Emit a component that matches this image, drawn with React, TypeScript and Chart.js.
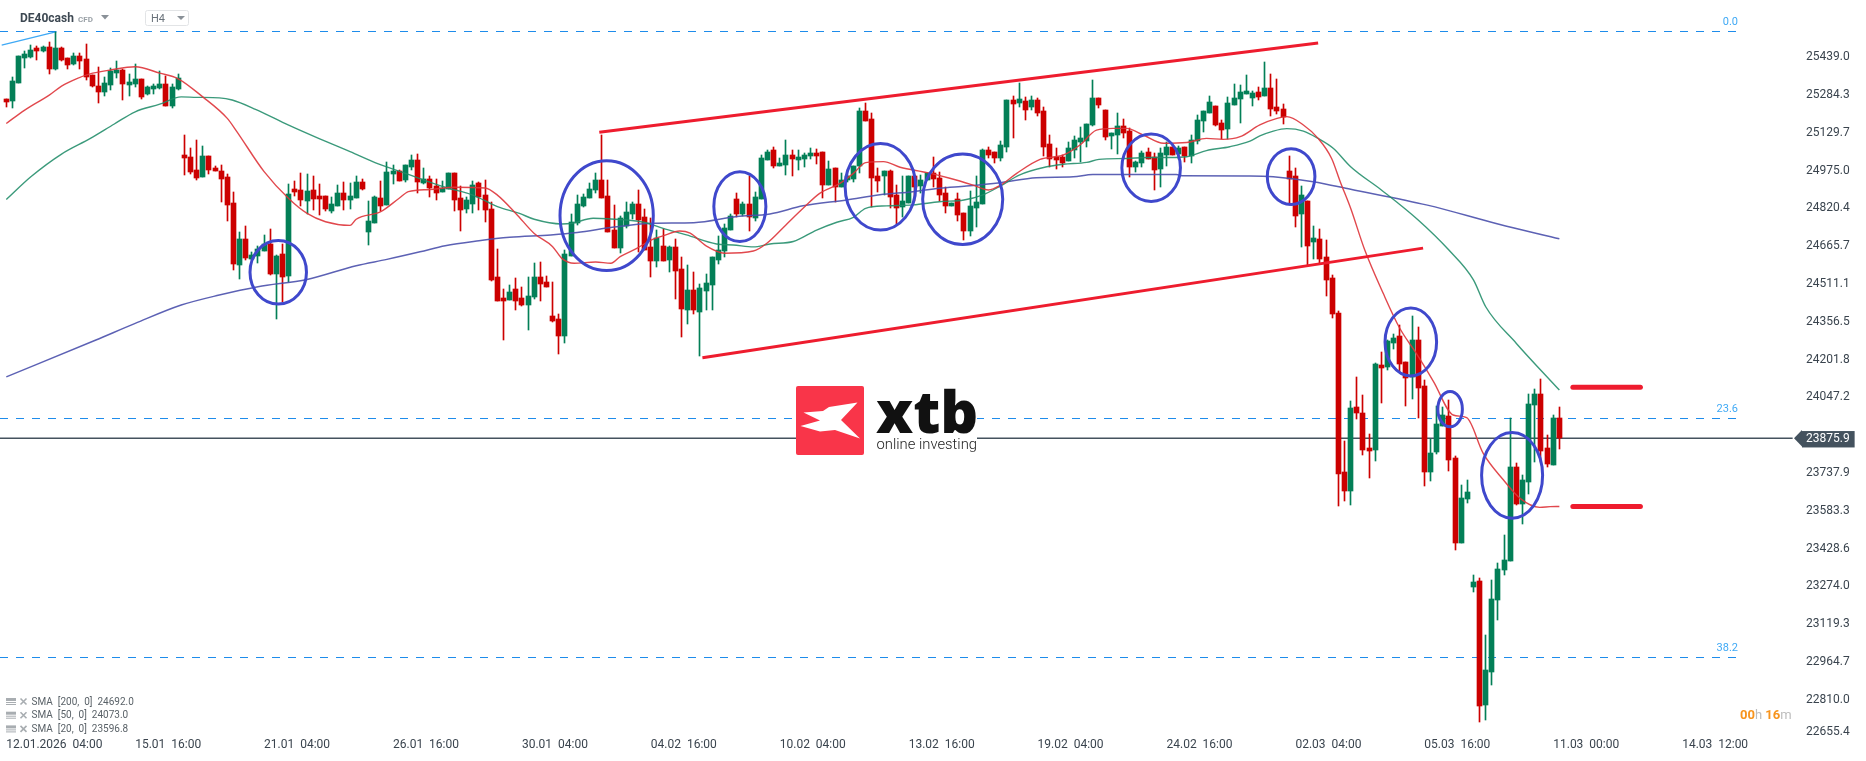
import React, { useEffect, useRef } from "react";
import { Chart, registerables } from "chart.js";

Chart.register(...registerables);

const opens = [
  25264,25256,25329,25432,25438,25473,25460,25477,25387,25473,
  25432,25407,25440,25428,25362,25317,25292,25321,25370,25383,
  25321,25325,25346,25284,25305,25309,25325,25235,25305,25035,
  25027,24973,24945,25031,24982,24969,24945,24838,24585,24691,
  24609,24621,24642,24671,24548,24630,24540,24896,24891,24846,
  24892,24867,24867,24806,24826,24879,24851,24859,24924,24720,
  24757,24859,24830,24957,24970,24933,24986,25015,24920,24937,
  24908,24884,24896,24961,24859,24814,24834,24920,24871,24814,
  24536,24450,24442,24487,24450,24421,24454,24536,24515,24376,
  24364,24294,24622,24757,24826,24859,24892,24933,24867,24728,
  24654,24744,24794,24835,24782,24659,24602,24663,24606,24659,
  24569,24401,24483,24393,24479,24503,24606,24642,24728,24855,
  24794,24835,24778,24855,25015,25056,24990,24994,25035,25015,
  25019,25031,25043,25047,24913,24982,24904,24933,24937,24990,
  25215,25183,24949,24949,24970,24872,24822,24839,24949,24908,
  24933,24961,24941,24880,24826,24855,24798,24724,24818,24835,
  25056,25047,25023,25068,25260,25248,25256,25232,25260,25215,
  25080,25027,25027,25011,25056,25088,25092,25158,25268,25219,
  25113,25117,25154,25133,24986,25002,25047,25027,24978,25035,
  25068,25039,25068,25031,25092,25174,25207,25236,25166,25142,
  25240,25264,25285,25268,25293,25277,25309,25232,25223,24970,
  24949,24794,24847,24679,24691,24618,24532,24389,23738,23660,
  24004,23979,23836,23828,24176,24167,24266,24294,24188,24127,
  24278,24090,23738,23820,23926,23967,23795,23447,23627,23267,
  23292,22784,22919,23214,23337,23374,23758,23607,23697,24012,
  24057,23836,23767,23959,
];
const highs = [
  25264,25353,25440,25460,25485,25481,25481,25497,25539,25477,
  25432,25452,25452,25489,25362,25395,25354,25391,25419,25387,
  25366,25407,25346,25317,25325,25378,25358,25325,25366,25117,
  25063,25096,25072,25031,24990,24994,24957,24883,24720,24744,
  24638,24662,24707,24732,24625,24671,24916,24928,24961,24957,
  24949,24916,24867,24863,24912,24924,24920,24949,24937,24847,
  24867,24929,25006,24994,24974,24994,25035,25039,24982,24949,
  24937,24929,24961,24961,24908,24863,24929,24924,24933,24843,
  24650,24487,24503,24532,24495,24536,24593,24597,24540,24515,
  24384,24646,24794,24871,24875,24920,24961,25117,24933,24830,
  24785,24843,24843,24892,24814,24778,24728,24732,24663,24691,
  24618,24585,24556,24507,24548,24618,24704,24753,24794,24880,
  24843,24949,24884,25035,25056,25068,25023,25097,25056,25056,
  25043,25064,25060,25047,25011,24982,24962,24953,24990,25228,
  25248,25207,24982,24970,24974,24913,24949,24949,24949,24953,
  24962,25027,24966,24904,24839,24880,24798,24888,24949,25060,
  25068,25047,25092,25260,25277,25330,25272,25277,25268,25232,
  25117,25064,25035,25088,25113,25150,25162,25342,25268,25219,
  25125,25207,25182,25146,25011,25051,25064,25043,25064,25088,
  25068,25072,25068,25117,25199,25215,25277,25236,25178,25272,
  25326,25322,25363,25297,25313,25416,25367,25346,25244,25031,
  24982,24908,24847,24745,24732,24687,24544,24397,23865,24028,
  24127,24053,23893,24184,24229,24278,24303,24339,24188,24376,
  24331,24114,23873,24008,24004,24033,23803,23685,23705,23316,
  23304,23071,23296,23365,23480,23959,23775,23726,24057,24078,
  24118,23889,23971,24004,
];
const lows = [
  25231,25227,25329,25391,25434,25423,25456,25366,25383,25419,
  25387,25403,25387,25342,25313,25248,25276,25301,25350,25260,
  25276,25313,25264,25280,25284,25305,25235,25227,25301,24953,
  24957,24932,24945,24957,24969,24842,24765,24564,24527,24605,
  24605,24593,24642,24544,24364,24433,24515,24867,24826,24793,
  24810,24789,24806,24798,24826,24810,24814,24859,24892,24667,
  24757,24806,24830,24916,24929,24924,24974,24879,24916,24863,
  24851,24884,24896,24806,24724,24798,24798,24810,24761,24519,
  24437,24278,24442,24401,24417,24319,24446,24437,24495,24352,
  24221,24266,24622,24749,24822,24859,24879,24859,24720,24654,
  24634,24736,24773,24640,24647,24536,24577,24602,24556,24446,
  24290,24344,24385,24213,24401,24401,24589,24618,24728,24782,
  24786,24724,24765,24855,25015,24982,24990,24953,24949,24974,
  24986,25019,24998,24859,24913,24843,24904,24926,24925,24962,
  25174,24822,24884,24872,24818,24753,24782,24839,24847,24880,
  24933,24904,24847,24798,24826,24765,24687,24704,24741,24835,
  25023,25002,25011,25047,25105,25232,25178,25219,25195,25031,
  24986,24978,24986,25011,25023,25006,25068,25154,25227,25097,
  25060,25039,25105,24945,24966,24986,25019,24892,24904,24990,
  25035,25019,25006,25002,25080,25129,25207,25154,25101,25101,
  25240,25166,25285,25236,25260,25277,25195,25203,25162,24831,
  24741,24659,24585,24610,24592,24458,24368,23599,23619,23603,
  23955,23807,23713,23783,24020,24155,24241,24147,24008,24037,
  23959,23681,23701,23811,23926,23742,23419,23447,23611,23247,
  22715,22723,22866,23132,23316,23374,23603,23525,23648,23779,
  23779,23758,23767,23832,
];
const closes = [
  25252,25338,25440,25448,25464,25460,25477,25387,25473,25423,
  25403,25440,25419,25354,25317,25292,25329,25378,25383,25325,
  25333,25346,25272,25313,25317,25325,25235,25313,25350,25022,
  24965,24941,25031,24973,24969,24936,24830,24589,24691,24613,
  24625,24650,24671,24548,24621,24535,24875,24883,24851,24887,
  24855,24855,24814,24834,24879,24851,24867,24924,24896,24765,
  24863,24826,24965,24970,24929,24994,25015,24924,24937,24900,
  24879,24900,24961,24851,24810,24851,24912,24863,24810,24523,
  24437,24437,24474,24437,24421,24458,24536,24507,24495,24356,
  24294,24630,24761,24834,24863,24896,24933,24859,24720,24654,
  24776,24802,24835,24769,24647,24602,24696,24602,24659,24561,
  24405,24483,24401,24491,24511,24618,24647,24736,24786,24794,
  24835,24782,24863,25023,25047,24990,25002,25035,25019,25027,
  25035,25043,25031,24913,24978,24904,24933,24949,24990,25215,
  25174,24941,24929,24970,24863,24818,24847,24949,24904,24933,
  24962,24937,24871,24826,24839,24790,24724,24826,24843,25056,
  25035,25023,25076,25260,25244,25264,25219,25260,25207,25068,
  25019,25015,25002,25064,25097,25105,25162,25268,25240,25109,
  25125,25154,25125,24986,25006,25043,25019,24974,25043,25068,
  25035,25064,25031,25097,25178,25215,25252,25158,25137,25248,
  25268,25293,25297,25289,25272,25309,25223,25215,25191,24937,
  24786,24872,24663,24696,24610,24524,24384,23730,23660,24000,
  23979,23828,23824,24180,24163,24274,24286,24180,24122,24278,
  24082,23738,23816,23934,23971,23787,23447,23631,23656,23288,
  22780,22928,23218,23341,23378,23758,23607,23705,24016,24057,
  23824,23771,23959,23875.9,
];

const sma20At = [
  0,3,7,9,11.5,13.5,17,21,25,28,32,36,37.5,42,46,49,52,56,57,61,64,65.5,69,73,78,80,83,86,89,90.5,92.5,96,98.5,
  100,102.7,104.9,107,109.7,111.4,114,117,121.7,123.9,127,129.8,132.5,135.8,138,140,142.9,145.6,150,153.7,157.5,
  160,162,164.6,168.4,172.2,174.9,177.6,180.3,182.5,185.2,188.5,192.3,195.5,198.2,201,204.2,207,208.6,211.3,213.7,
  215.9,217.3,219,221.3,224.3,227,229.7,232.5,235.7,237.9,240.6,243.9,246.6,249.8,251.5,253,
];
const sma20Values = [
  25164,25219,25280,25317,25348,25366,25383,25396,25370,25347,25273,25185,25133,24967,24857,24796,24762,24747,24772,24803,24858,24885,24894,24903,24900,24871,24796,24714,24660,24612,24592,24597,24592,
  24619,24653,24685,24704,24724,24715,24663,24633,24642,24674,24749,24817,24878,24919,24960,25004,25008,24985,24963,24940,24912,
  24892,24912,24960,25017,25035,25076,25137,25144,25144,25117,25083,25086,25103,25099,25110,25158,25185,25192,25158,25103,
  25021,24926,24817,24646,24469,24326,24223,24108,23971,23960,23814,23705,23630,23593,23596,23596.8,
];
const sma50At = [
  0,4,9,13.7,17.6,21,25,28.5,31,34.7,36.8,40.6,46,50.5,56,60.6,65,71.5,76,80,83.6,86,90.5,92,95.6,98,
  103.8,107,110.8,115.7,118.4,121.7,124.4,128.2,132,135.3,138,140,143.4,147.7,152,156,159,162,165,169.5,172.2,
  176,178,182.5,185.8,189.6,192.3,195.5,199.3,202.6,204.2,206.4,208.6,211.3,213.7,216.2,219,224,230,235,239,241,246,253,
];
const sma50Values = [
  24853,24946,25039,25103,25162,25212,25243,25273,25271,25269,25260,25222,25157,25107,25049,24999,24960,24903,24871,24824,24796,24772,24753,24755,24776,24774,
  24760,24735,24708,24671,24667,24659,24671,24681,24728,24760,24780,24817,24827,24831,24844,24851,24871,24909,24953,24987,24997,
  25005,25017,25021,25025,25025,25028,25053,25069,25092,25113,25133,25143,25133,25103,25062,24987,24892,24769,24646,24524,24414,24264,24073,
];
const sma200At = [
  0,14.6,21,28.5,34.7,41,49,57,62,67.4,71.5,77,82,88.7,93,99,105.4,112,119,124.4,129.8,136.9,142.3,147.7,152,
  156.4,161.9,167.8,173.8,177,190.6,191.7,202.6,206.4,212.9,219,231.5,243,253,
];
const sma200Values = [
  24127,24278,24346,24421,24462,24496,24526,24582,24608,24639,24664,24684,24698,24708,24718,24740,24756,24758,24783,24794,24827,24851,24872,24885,24899,
  24908,24922,24942,24946,24955,24955,24950,24949,24946,24926,24895,24830,24753,24692,
];

const priceTicks = [
  25439.0,25284.3,25129.7,24975.0,24820.4,24665.7,24511.1,24356.5,24201.8,24047.2,23875.9,
  23737.9,23583.3,23428.6,23274.0,23119.3,22964.7,22810.0,22655.4,
];
const lastPrice = 23875.9;
const timeTickAt = [0,21,42,63,84,105,126,147,168,189,210,231,252,273];
const timeTickLabels = [
  "12.01.2026  04:00","15.01  16:00","21.01  04:00","26.01  16:00","30.01  04:00","04.02  16:00",
  "10.02  04:00","13.02  16:00","19.02  04:00","24.02  16:00","02.03  04:00","05.03  16:00","11.03  00:00","14.03  12:00",
];

const fibLevels = [25540.5, 23956.7, 22978.6];
const fibLabels = ["0.0", "23.6", "38.2"];
const fibEndAt = 282.1;
const channelUpperAt = [96.6, 213.7];
const channelUpperPrices = [25128, 25493];
const channelLowerAt = [113.4, 230.8];
const channelLowerPrices = [24205.5, 24654];
const stopLevels = [24084.4, 23597];
const stopAt = [255.2, 266.2];
const startTrendAt = [-0.75, 8.2];
const startTrendPrices = [25485, 25540];
const circleAt = [44.3, 97.8, 119.5, 142.4, 155.8, 186.5, 209.3, 228.8, 235.2, 245.3];
const circlePrices = [24555, 24787, 24824, 24905, 24854, 24983, 24947, 24270, 23995, 23724];
const circleSpanAt = [4.6, 7.6, 4.24, 5.75, 6.52, 4.77, 3.88, 4.2, 2.0, 4.97];
const circleSpanPrice = [130, 225, 143, 177, 185, 138, 114, 139, 72, 175];
const legendRows = ["SMA  [200,  0]  24692.0", "SMA  [50,  0]  24073.0", "SMA  [20,  0]  23596.8"];

const RED = "#CC0000";
const GREEN = "#037F57";
const indices = opens.map((_, i) => i);
const candleColors = indices.map((i) => (closes[i] >= opens[i] ? GREEN : RED));
const zip = (xs: number[], ys: number[]) => xs.map((x, i) => ({ x, y: ys[i] }));
const xMin = -1.026;
const xMax = 292.2;
const priceEndAt = 291;

const crispBars = {
  id: "crispBars",
  afterDatasetsUpdate(chart: any) {
    chart.data.datasets.forEach((d: any, i: number) => {
      if (d.type !== "bar") return;
      chart.getDatasetMeta(i).data.forEach((el: any) => {
        el.x = Math.floor(el.x) + 0.5;
        el.y = Math.round(el.y);
        el.base = Math.round(el.base);
      });
    });
  },
};

function tri(ctx: CanvasRenderingContext2D, pts: number[][], fill: string) {
  ctx.fillStyle = fill;
  ctx.beginPath();
  pts.forEach(([x, y], i) => (i ? ctx.lineTo(x, y) : ctx.moveTo(x, y)));
  ctx.closePath();
  ctx.fill();
}

const overlays = {
  id: "overlays",
  afterDatasetsDraw(chart: any) {
    const ctx: CanvasRenderingContext2D = chart.ctx;
    const xs = chart.scales.x;
    const ys = chart.scales.y;
    ctx.save();

    // circles marking candle groups
    ctx.strokeStyle = "#3F48CC";
    ctx.lineWidth = 3;
    circleAt.forEach((c, i) => {
      const cx = xs.getPixelForValue(c);
      const cy = ys.getPixelForValue(circlePrices[i]);
      const rx = xs.getPixelForValue(c + circleSpanAt[i]) - cx;
      const ry = cy - ys.getPixelForValue(circlePrices[i] + circleSpanPrice[i]);
      ctx.beginPath();
      ctx.ellipse(cx, cy, rx, ry, 0, 0, Math.PI * 2);
      ctx.stroke();
    });

    // fibonacci captions
    ctx.fillStyle = "#3FA9F5";
    ctx.font = "11px Roboto";
    ctx.textAlign = "right";
    ctx.textBaseline = "middle";
    fibLevels.forEach((p, i) => {
      ctx.fillText(fibLabels[i], xs.getPixelForValue(fibEndAt), ys.getPixelForValue(p) - 9);
    });

    // last-price pointer
    const tagY = ys.getPixelForValue(lastPrice);
    tri(ctx, [[1794, tagY], [1802, tagY - 8.3], [1802, tagY + 8.3]], "#44525E");

    // watermark
    ctx.fillStyle = "#FFFFFF";
    ctx.fillRect(796, 384, 181, 73);
    ctx.fillStyle = "#F93549";
    ctx.beginPath();
    ctx.roundRect(796, 386, 68, 69, 2);
    ctx.fill();
    tri(ctx, [
      [803.5, 412.5], [823, 411], [829, 407], [857.5, 402.5], [841, 420], [860, 438.5],
      [835, 430], [820, 431.5], [800.5, 426], [820, 420.5],
    ], "#FFFFFF");
    ctx.fillStyle = "#111111";
    ctx.textAlign = "left";
    ctx.textBaseline = "alphabetic";
    ctx.font = "800 59px 'Open Sans'";
    ctx.fillText("xtb", 876, 433);
    ctx.font = "300 14.8px Roboto";
    ctx.fillStyle = "#222222";
    ctx.fillText("online investing", 876.5, 449);

    // header
    ctx.textBaseline = "middle";
    ctx.fillStyle = "#3D4852";
    ctx.font = "bold 12px Roboto";
    ctx.fillText("DE40cash", 20, 19);
    ctx.fillStyle = "#9AA1A7";
    ctx.font = "bold 8px Roboto";
    ctx.fillText("CFD", 78, 19.5);
    tri(ctx, [[101, 15], [109, 15], [105, 19.5]], "#8A9198");
    ctx.strokeStyle = "#E2E4E6";
    ctx.lineWidth = 1;
    ctx.beginPath();
    ctx.roundRect(145.5, 10.5, 43, 15, 2);
    ctx.stroke();
    ctx.fillStyle = "#6A737B";
    ctx.font = "11px Roboto";
    ctx.fillText("H4", 151, 19.5);
    tri(ctx, [[177, 16], [185, 16], [181, 20]], "#8A9198");

    // indicator legend
    legendRows.forEach((row, i) => {
      const y = 701.5 + i * 13.7;
      ctx.fillStyle = "#A8ADB1";
      ctx.fillRect(6, y - 3.5, 10, 3);
      ctx.fillRect(6, y + 0.5, 10, 1);
      ctx.fillRect(6, y + 2.5, 10, 1);
      ctx.strokeStyle = "#A8ADB1";
      ctx.lineWidth = 1.6;
      ctx.beginPath();
      ctx.moveTo(20.5, y - 3);
      ctx.lineTo(26.5, y + 3);
      ctx.moveTo(26.5, y - 3);
      ctx.lineTo(20.5, y + 3);
      ctx.stroke();
      ctx.fillStyle = "#5A6268";
      ctx.font = "10px Roboto";
      ctx.fillText(row, 31.5, y + 0.5);
    });

    // countdown
    ctx.textBaseline = "middle";
    const parts: [string, string, string][] = [
      ["00", "#F7941D", "bold 13px Roboto"],
      ["h ", "#BDBDBD", "13px Roboto"],
      ["16", "#F7941D", "bold 13px Roboto"],
      ["m", "#BDBDBD", "13px Roboto"],
    ];
    let cx = 1740;
    parts.forEach(([t, col, font]) => {
      ctx.font = font;
      ctx.fillStyle = col;
      ctx.fillText(t, cx, 716);
      cx += ctx.measureText(t).width;
    });
    ctx.restore();
  },
};

const lineBase = { type: "line", pointRadius: 0, pointHoverRadius: 0, fill: false };

export default function App() {
  const ref = useRef<HTMLCanvasElement>(null);
  useEffect(() => {
    if (!ref.current) return;
    const tagIndex = priceTicks.indexOf(lastPrice);
    const lastIndex = priceTicks.length - 1;
    const barBase = {
      type: "bar",
      grouped: false,
      categoryPercentage: 1,
      barPercentage: 1,
      borderWidth: 0,
      backgroundColor: candleColors,
    };
    const chart = new Chart(ref.current, {
      type: "bar",
      data: {
        datasets: [
          ...stopLevels.map((p) => ({
            ...lineBase, order: 1, borderColor: "#EE1C2E", borderWidth: 5, borderCapStyle: "round",
            data: stopAt.map((x) => ({ x, y: p })),
          })),
          { ...lineBase, order: 1, borderColor: "#EE1C2E", borderWidth: 3, data: zip(channelUpperAt, channelUpperPrices) },
          { ...lineBase, order: 1, borderColor: "#EE1C2E", borderWidth: 3, data: zip(channelLowerAt, channelLowerPrices) },
          { ...lineBase, order: 2, borderColor: "rgba(222,52,58,0.9)", borderWidth: 1.4, cubicInterpolationMode: "monotone", data: zip(sma20At, sma20Values) },
          { ...lineBase, order: 2, borderColor: "rgba(32,140,105,0.88)", borderWidth: 1.4, cubicInterpolationMode: "monotone", data: zip(sma50At, sma50Values) },
          { ...lineBase, order: 2, borderColor: "rgba(74,80,172,0.9)", borderWidth: 1.5, cubicInterpolationMode: "monotone", data: zip(sma200At, sma200Values) },
          { ...barBase, order: 3, maxBarThickness: 5, data: indices.map((i) => ({ x: i, y: [opens[i], closes[i]] })) },
          { ...barBase, order: 4, maxBarThickness: 1, data: indices.map((i) => ({ x: i, y: [lows[i], highs[i]] })) },
          ...fibLevels.map((p) => ({
            ...lineBase, order: 5, borderColor: "#1E8CEB", borderWidth: 1, borderDash: [8, 8],
            data: [{ x: xMin, y: p }, { x: fibEndAt, y: p }],
          })),
          { ...lineBase, order: 5, borderColor: "#44525E", borderWidth: 1.5, data: [{ x: xMin, y: lastPrice }, { x: priceEndAt, y: lastPrice }] },
          { ...lineBase, order: 5, borderColor: "#3FA9F5", borderWidth: 1.3, data: zip(startTrendAt, startTrendPrices) },
        ],
      } as any,
      options: {
        responsive: false,
        animation: false,
        devicePixelRatio: 1,
        events: [],
        layout: { padding: 0 },
        plugins: { legend: { display: false }, tooltip: { enabled: false }, title: { display: false } },
        scales: {
          x: {
            type: "linear",
            min: xMin,
            max: xMax,
            offset: false,
            grid: { display: false, drawTicks: false, offset: false },
            border: { display: false },
            afterBuildTicks(s: any) {
              s.ticks = timeTickAt.map((value) => ({ value }));
            },
            afterFit(s: any) {
              s.height = 23;
              s.paddingLeft = s.paddingRight = s.paddingTop = s.paddingBottom = 0;
            },
            ticks: {
              autoSkip: false,
              maxRotation: 0,
              minRotation: 0,
              align: "start",
              padding: 0,
              color: "#3A444E",
              font: { family: "Roboto", size: 12 },
              callback: (_: any, i: number) => timeTickLabels[i],
            },
          },
          y: {
            type: "linear",
            position: "right",
            min: 22649.2,
            max: 25669.4,
            grid: { display: false, drawTicks: false },
            border: { display: false },
            afterBuildTicks(s: any) {
              s.ticks = priceTicks.map((value) => ({ value }));
            },
            afterFit(s: any) {
              s.width = 66;
              s.paddingLeft = s.paddingRight = s.paddingTop = s.paddingBottom = 0;
            },
            ticks: {
              autoSkip: false,
              padding: 6,
              labelOffset: 1,
              color: (c: any) => (c.index === tagIndex ? "#FFFFFF" : "#3A444E"),
              font: (c: any) => ({ family: "Roboto", size: 12, lineHeight: c.index === lastIndex ? 0.95 : 1.2 }),
              showLabelBackdrop: (c: any) => c.index === tagIndex,
              backdropColor: "#44525E",
              backdropPadding: { left: 4, right: 5, top: 1, bottom: 1 },
              callback: (v: any, i: number) => {
                const t = Number(v).toFixed(1);
                return i === lastIndex ? [t, ""] : t;
              },
            },
          },
        },
      } as any,
      plugins: [crispBars, overlays],
    } as any);
    return () => chart.destroy();
  }, []);
  return (
    <div style={{ position: "fixed", left: 0, top: 0, width: 1866, height: 761, background: "#fff", overflow: "hidden" }}>
      <canvas ref={ref} width={1866} height={761} style={{ display: "block", width: 1866, height: 761 }} />
    </div>
  );
}
